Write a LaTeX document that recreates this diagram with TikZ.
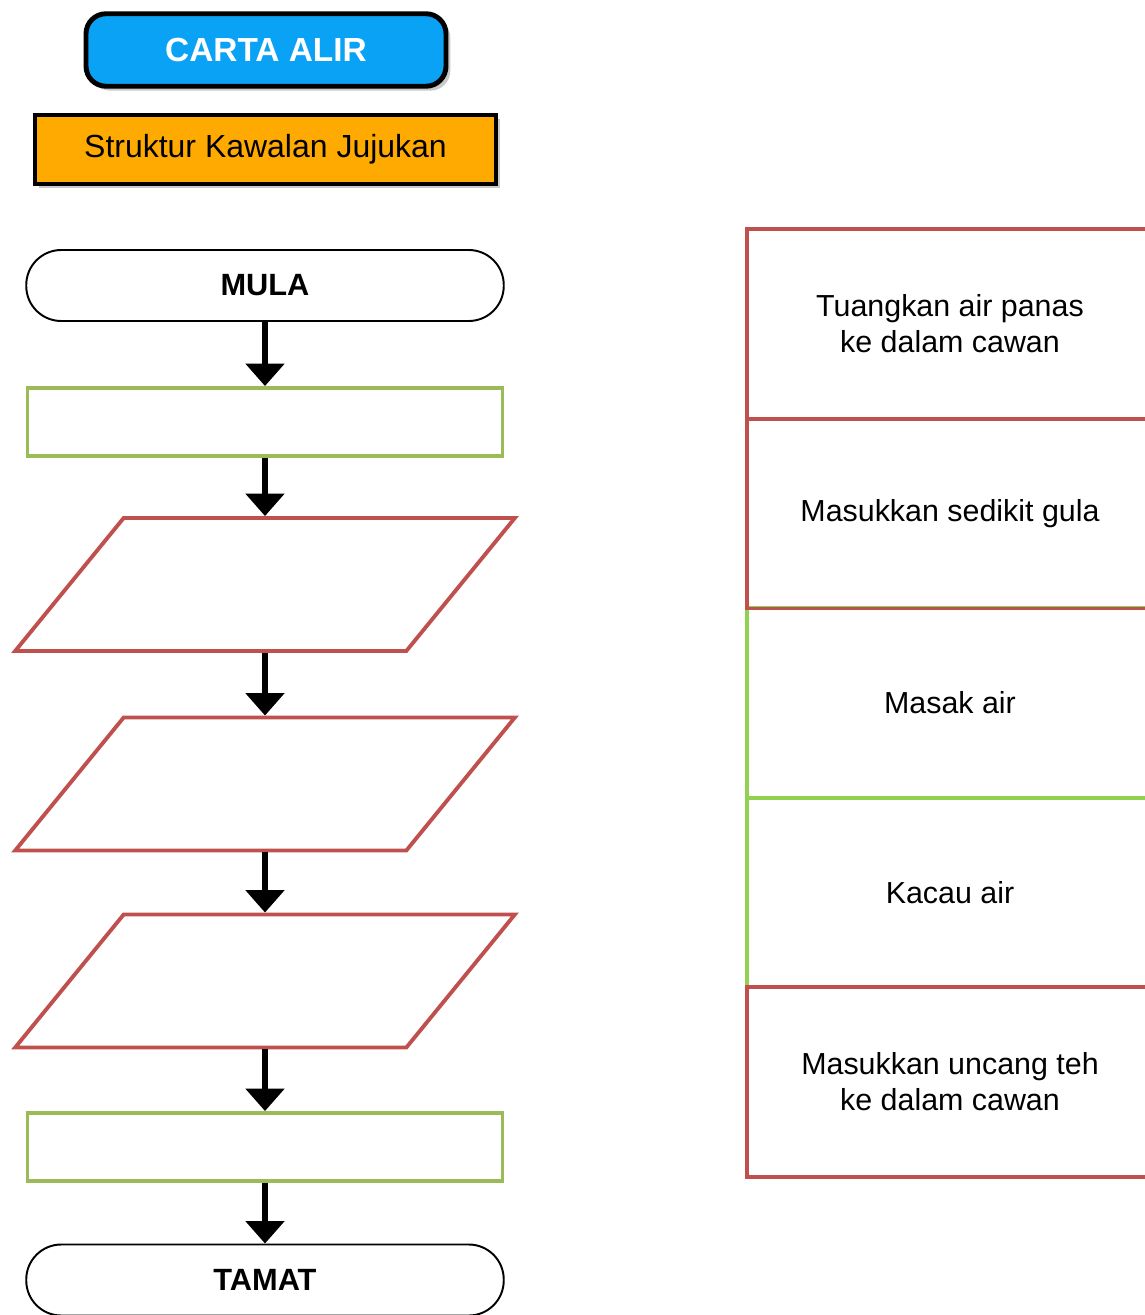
\documentclass[tikz,border=0pt]{standalone}
\usepackage{fontspec}
\setmainfont{Liberation Sans}
\usepackage{tikz}
\usetikzlibrary{arrows.meta, positioning, shapes.geometric, shadows}

\definecolor{headblue}{HTML}{0AA2F5}
\definecolor{headorange}{HTML}{FFAA00}
\definecolor{procgreen}{HTML}{9BBB59}
\definecolor{cardgreen}{HTML}{92D050}
\definecolor{iored}{HTML}{C0504D}

\begin{document}
\begin{tikzpicture}[
    softshadow/.style={drop shadow={shadow xshift=2.5pt, shadow yshift=-2.5pt, opacity=0.3, fill=black!70}},
    terminal/.style={draw=black, line width=1.1pt, rounded corners=0.7cm, minimum width=9.55cm, minimum height=1.42cm, font=\fontsize{17.5}{20}\selectfont\bfseries},
    process/.style={draw=procgreen, line width=2.2pt, minimum width=9.5cm, minimum height=1.36cm},
    io/.style={trapezium, trapezium left angle=69, trapezium right angle=111, trapezium stretches=true, draw=iored, line width=2.2pt, minimum width=10.0cm, minimum height=2.66cm},
    card/.style={draw, line width=2.2pt, minimum width=8.12cm, minimum height=3.8cm, align=center, font=\fontsize{17.3}{20.5}\selectfont},
    flow/.style={line width=3.4pt, -{Triangle[width=0.76cm, length=0.45cm]}}
]
\useasboundingbox (0,0) rectangle (22.9,-26.3);
% Right column of steps
\def\stepcard#1#2#3#4{
    % #1 = name, #2 = y position, #3 = colour, #4 = text
    \node[card, draw=#3] (#1) at (19.0, #2) {#4};
}
% Header
\node[draw=black, line width=2.8pt, fill=headblue, rounded corners=0.4cm, minimum width=7.2cm, minimum height=1.45cm,
      text=white, font=\fontsize{19}{22}\selectfont\bfseries, softshadow] (title) at (5.32,-1.0) {CARTA ALIR};
\node[draw=black, line width=2.2pt, fill=headorange, minimum width=9.22cm, minimum height=1.38cm,
      font=\fontsize{18.2}{21}\selectfont, softshadow] (subtitle) at (5.31,-2.99) {Struktur Kawalan Jujukan};

% Flow chart
\node[terminal] (mula) at (5.3,-5.71) {MULA};
\node[process] (p1) at (5.3,-8.44) {};
\node[io] (in1) at (5.3,-11.69) {};
\node[io] (in2) at (5.3,-15.68) {};
\node[io] (in3) at (5.3,-19.62) {};
\node[process] (p2) at (5.3,-22.94) {};
\node[terminal] (tamat) at (5.3,-25.6) {TAMAT};

\draw[flow] (mula) -- (p1);
\draw[flow] (p1) -- (in1);
\draw[flow] (in1) -- (in2);
\draw[flow] (in2) -- (in3);
\draw[flow] (in3) -- (p2);
\draw[flow] (p2) -- (tamat);

% Steps
\stepcard{c3}{-14.06}{cardgreen}{Masak air}
\stepcard{c4}{-17.85}{cardgreen}{Kacau air}
\stepcard{c1}{-6.48}{iored}{Tuangkan air panas\\ke dalam cawan}
\stepcard{c2}{-10.27}{iored}{Masukkan sedikit gula}
\stepcard{c5}{-21.64}{iored}{Masukkan uncang teh\\ke dalam cawan}
\end{tikzpicture}
\end{document}
